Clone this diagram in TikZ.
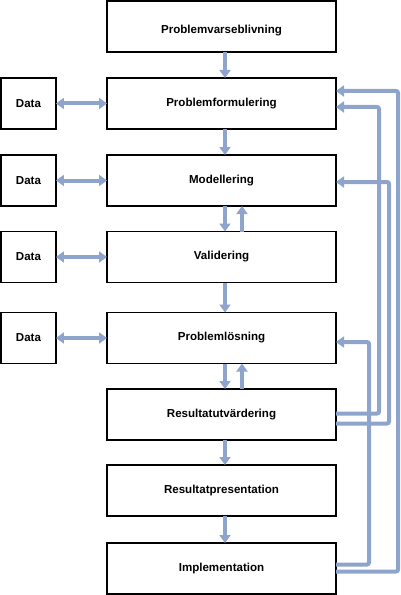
\documentclass[tikz,border=0pt]{standalone}
\usepackage{fontspec}
\setmainfont{Liberation Sans}
\usepackage{tikz}
\usetikzlibrary{arrows.meta,positioning}
\definecolor{FlowBlue}{RGB}{142,164,204}

\begin{document}
\begin{tikzpicture}[x=1bp,y=1bp,node distance=26bp,every node/.style={font=\fontsize{11.6}{13}\selectfont\bfseries}]
\tikzset{stage/.style={draw=black,line width=1.6bp,outer sep=0pt,fill=white,minimum width=229bp,minimum height=51bp,align=center},datbox/.style={draw=black,line width=1.6bp,outer sep=0pt,fill=white,minimum width=55bp,minimum height=51bp,align=center},flow/.style={draw=FlowBlue,line width=4bp,rounded corners=2bp,-{Triangle[width=11bp,length=8bp]}}}
\useasboundingbox (0,0) rectangle (400,-595);
\node[stage,text height=17bp] (aware) at (221.5,-26.5) {Problemvarseblivning};
\node[stage,below=of aware] (form) {Problemformulering};
\node[stage,below=of form] (model) {Modellering};
\node[stage,below=25.5bp of model] (valid) {Validering};
\node[stage,below=30bp of valid] (solve) {Problemlösning};
\node[stage,below=25.5bp of solve] (eval) {Resultatutvärdering};
\node[stage,below=25bp of eval] (pres) {Resultatpresentation};
\node[stage,below=27bp of pres] (impl) {Implementation};
\node[datbox,left=51bp of form] (data1) {Data};
\node[datbox,left=51bp of model] (data2) {Data};
\node[datbox,left=51bp of valid] (data3) {Data};
\node[datbox,left=51bp of solve] (data4) {Data};
% main chain
\draw[flow] ([xshift=3.5bp]aware.south) -- ([xshift=3.5bp]form.north);
\draw[flow] ([xshift=3.5bp]form.south) -- ([xshift=3.5bp]model.north);
\draw[flow] ([xshift=3.5bp]model.south) -- ([xshift=3.5bp]valid.north);
\draw[flow] ([xshift=20.5bp]valid.north) -- ([xshift=20.5bp]model.south);
\draw[flow] ([xshift=3.5bp]valid.south) -- ([xshift=3.5bp]solve.north);
\draw[flow] ([xshift=3.5bp]solve.south) -- ([xshift=3.5bp]eval.north);
\draw[flow] ([xshift=20.5bp]eval.north) -- ([xshift=20.5bp]solve.south);
\draw[flow] ([xshift=3.5bp]eval.south) -- ([xshift=3.5bp]pres.north);
\draw[flow] ([xshift=3.5bp]pres.south) -- ([xshift=3.5bp]impl.north);
% data exchange
\draw[flow,{Triangle[width=11bp,length=8bp]}-{Triangle[width=11bp,length=8bp]}] (data1) -- (form);
\draw[flow,{Triangle[width=11bp,length=8bp]}-{Triangle[width=11bp,length=8bp]}] (data2) -- (model);
\draw[flow,{Triangle[width=11bp,length=8bp]}-{Triangle[width=11bp,length=8bp]}] (data3) -- (valid);
\draw[flow,{Triangle[width=11bp,length=8bp]}-{Triangle[width=11bp,length=8bp]}] (data4) -- (solve);
% feedback loops
\draw[flow] ([yshift=1bp]eval.east) -- ++(43,0) |- ([yshift=-3.5bp]form.east);
\draw[flow] ([yshift=-9bp]eval.east) -- ++(53,0) |- ([yshift=-1.5bp]model.east);
\draw[flow] ([yshift=4bp]impl.east) -- ++(33,0) |- ([yshift=-4bp]solve.east);
\draw[flow] ([yshift=-3bp]impl.east) -- ++(62,0) |- ([yshift=12.5bp]form.east);
\end{tikzpicture}
\end{document}
